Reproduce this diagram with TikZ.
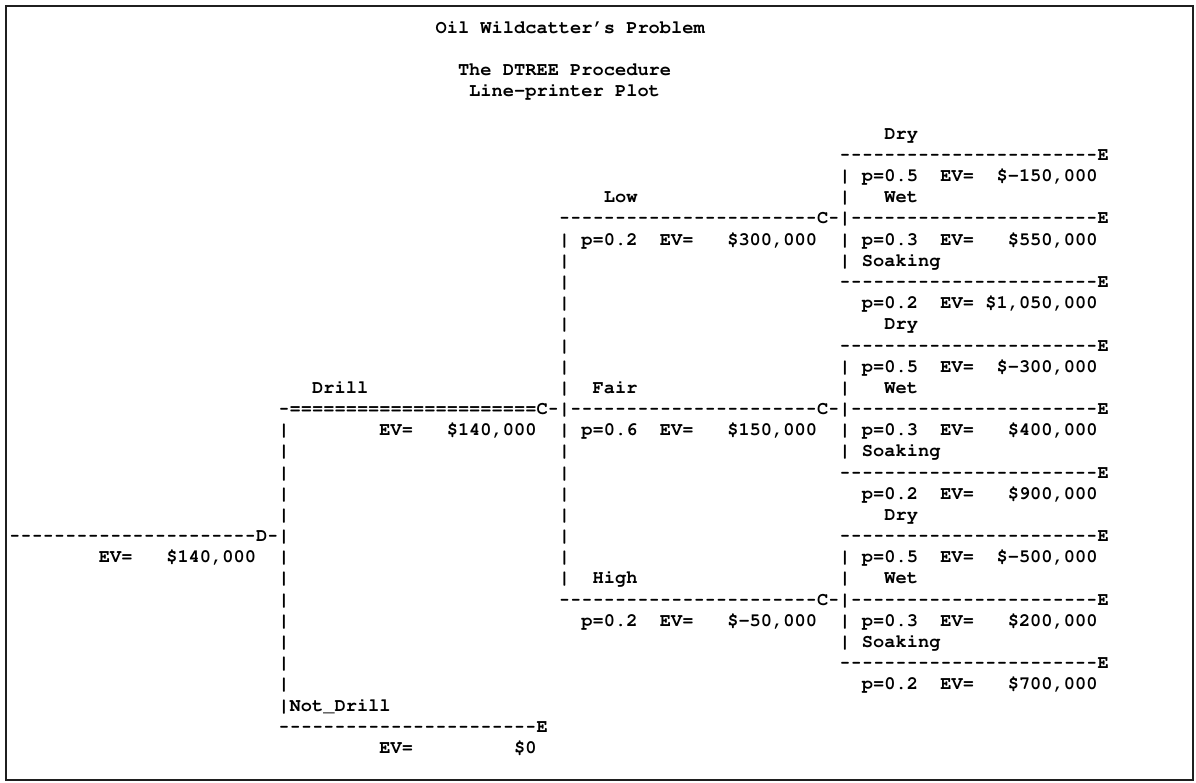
\documentclass[tikz,border=0pt]{standalone}
\usepackage[T1,TU]{fontenc}
\usepackage{graphicx}
\usepackage{tikz}

% one printer hyphen in its own cell, and a run of them
\newcommand{\hy}{\makebox[0.6em]{\scalebox{0.8}[1]{-}}}
\newcommand{\dashrun}[1]{\foreach \n in {1,...,#1}{\hy}}

\begin{document}
\begin{tikzpicture}[
  x=11.22pt, y=-21.18pt,
  lp/.style={inner sep=0pt, anchor=base west,
    font=\fontencoding{T1}\fontfamily{pcr}\fontseries{b}\fontsize{18.7}{21}\selectfont},
  frame/.style={draw=black!88, line width=2.2pt}
]
  \useasboundingbox (-9pt,139.2pt) rectangle (1187pt,-642.8pt);
  \draw[frame] (-3pt,133.5pt) rectangle (1184pt,-640.8pt);

  % titles
  \node[lp] (title) at (38,-5) {Oil Wildcatter's Problem};
  \node[lp] (procName) at (40,-3) {The DTREE Procedure};
  \node[lp] (plotKind) at (41,-2) {Line-printer Plot};

  % root decision and its two branches
  \node[lp] (rootLine) at (0,19) {\dashrun{22}D\hy|};
  \node[lp] (rootEV) at (8,20) {EV=~~~\$140,000};
  \node[lp] (drillLabel) at (27,12) {Drill};
  \node[lp] (drillLine) at (24,13)
    {\hy======================C\hy|\dashrun{22}C\hy|\dashrun{22}E};
  \node[lp] (drillEV) at (33,14) {EV=~~~\$140,000};
  \node[lp] (notDrillLabel) at (25,27) {Not\_Drill};
  \node[lp] (notDrillLine) at (24,28) {\dashrun{23}E};
  \node[lp] (notDrillEV) at (33,29) {EV=~~~~~~~~~\$0};
  \foreach \r in {14,15,16,17,18,20,21,22,23,24,25,26,27}
    \node[lp] (drillBar\r) at (24,\r) {|};

  % chance node: test result
  \node[lp] (lowLabel) at (53,3) {Low};
  \node[lp] (lowLine) at (49,4) {\dashrun{23}C\hy|\dashrun{22}E};
  \node[lp] (lowEV) at (51,5) {p=0.2~~EV=~~~\$300,000};
  \node[lp] (fairLabel) at (52,12) {Fair};
  \node[lp] (fairEV) at (51,14) {p=0.6~~EV=~~~\$150,000};
  \node[lp] (highLabel) at (52,21) {High};
  \node[lp] (highLine) at (49,22) {\dashrun{23}C\hy|\dashrun{22}E};
  \node[lp] (highEV) at (51,23) {p=0.2~~EV=~~~\$-50,000};
  \foreach \r in {5,6,7,8,9,10,11,12,14,15,16,17,18,19,20,21}
    \node[lp] (testBar\r) at (49,\r) {|};

  % chance nodes: well outcome
  \node[lp] (dryLowLabel) at (78,0) {Dry};
  \node[lp] (dryLowLine) at (74,1) {\dashrun{23}E};
  \node[lp] (dryLowEV) at (76,2) {p=0.5~~EV=~~\$-150,000};
  \node[lp] (wetLowLabel) at (78,3) {Wet};
  \node[lp] (wetLowEV) at (76,5) {p=0.3~~EV=~~~\$550,000};
  \node[lp] (soakLowLabel) at (76,6) {Soaking};
  \node[lp] (soakLowLine) at (74,7) {\dashrun{23}E};
  \node[lp] (soakLowEV) at (76,8) {p=0.2~~EV=~\$1,050,000};

  \node[lp] (dryFairLabel) at (78,9) {Dry};
  \node[lp] (dryFairLine) at (74,10) {\dashrun{23}E};
  \node[lp] (dryFairEV) at (76,11) {p=0.5~~EV=~~\$-300,000};
  \node[lp] (wetFairLabel) at (78,12) {Wet};
  \node[lp] (wetFairEV) at (76,14) {p=0.3~~EV=~~~\$400,000};
  \node[lp] (soakFairLabel) at (76,15) {Soaking};
  \node[lp] (soakFairLine) at (74,16) {\dashrun{23}E};
  \node[lp] (soakFairEV) at (76,17) {p=0.2~~EV=~~~\$900,000};

  \node[lp] (dryHighLabel) at (78,18) {Dry};
  \node[lp] (dryHighLine) at (74,19) {\dashrun{23}E};
  \node[lp] (dryHighEV) at (76,20) {p=0.5~~EV=~~\$-500,000};
  \node[lp] (wetHighLabel) at (78,21) {Wet};
  \node[lp] (wetHighEV) at (76,23) {p=0.3~~EV=~~~\$200,000};
  \node[lp] (soakHighLabel) at (76,24) {Soaking};
  \node[lp] (soakHighLine) at (74,25) {\dashrun{23}E};
  \node[lp] (soakHighEV) at (76,26) {p=0.2~~EV=~~~\$700,000};
  \foreach \r in {2,3,5,6,11,12,14,15,20,21,23,24}
    \node[lp] (wellBar\r) at (74,\r) {|};
\end{tikzpicture}
\end{document}
